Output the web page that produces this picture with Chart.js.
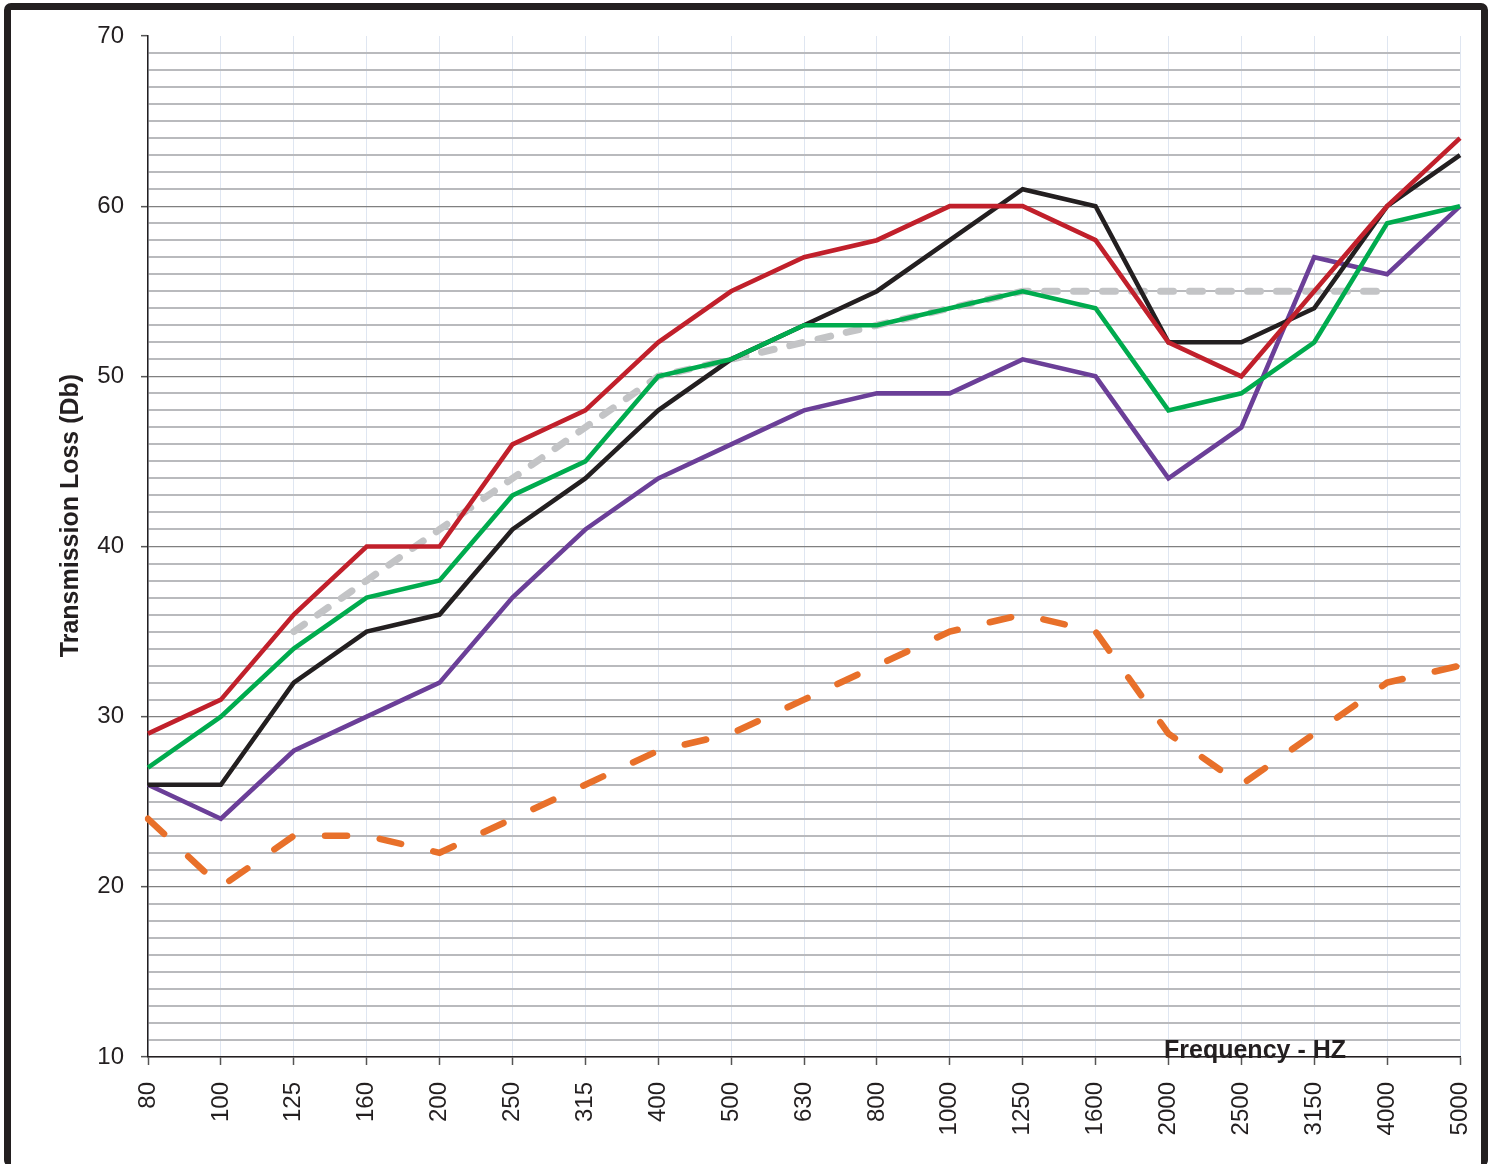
<!DOCTYPE html>
<html>
<head>
<meta charset="utf-8">
<script src="https://cdn.jsdelivr.net/npm/chart.js@4.4.1/dist/chart.umd.min.js"></script>
<style>
  html, body { margin: 0; padding: 0; background: #ffffff; }
  #wrap { position: relative; width: 1494px; height: 1164px; overflow: hidden; }
  #frame { position: absolute; left: 4px; top: 3px; width: 1470px; height: 1155px;
           border: 7px solid #231f20; border-bottom-width: 2px; border-radius: 7px; }
  canvas { position: absolute; left: 0; top: 0; }
</style>
</head>
<body>
<div id="wrap">
  <div id="frame"></div>
  <canvas id="c" width="1494" height="1164"></canvas>
</div>
<script>
const frequencies = ['80','100','125','160','200','250','315','400','500','630','800','1000','1250','1600','2000','2500','3150','4000','5000'];
const redSeries    = [29,31,36,40,40,46,48,52,55,57,58,60,60,58,52,50,55,60,64];
const greenSeries  = [27,30,34,37,38,43,45,50,51,53,53,54,55,54,48,49,52,59,60];
const blackSeries  = [26,26,32,35,36,41,44,48,51,53,55,58,61,60,52,52,54,60,63];
const purpleSeries = [26,24,28,30,32,37,41,44,46,48,49,49,51,50,44,47,57,56,60];
const orangeSeries = [24,20,23,23,22,24,26,28,29,31,33,35,36,35,29,26,29,32,33];
const greySeries   = [null,null,35,38,41,44,47,50,51,52,53,54,55,55,55,55,55,55,null];
const yTickValues  = [10,20,30,40,50,60,70];

const yTitle = 'Transmission Loss (Db)';
const xTitle = 'Frequency - HZ';

const titlesPlugin = {
  id: 'titles',
  afterDraw(chart) {
    const ctx = chart.ctx;
    const a = chart.chartArea;
    ctx.save();
    ctx.fillStyle = '#231f20';
    ctx.font = 'bold 25px "Liberation Sans", Arial, sans-serif';
    ctx.textAlign = 'center';
    ctx.textBaseline = 'alphabetic';
    ctx.translate(a.left - 70, (a.top + a.bottom) / 2 - 31);
    ctx.rotate(-Math.PI / 2);
    ctx.fillText(yTitle, 0, 0);
    ctx.restore();
    ctx.save();
    ctx.fillStyle = '#231f20';
    ctx.font = 'bold 25px "Liberation Sans", Arial, sans-serif';
    ctx.textAlign = 'center';
    ctx.textBaseline = 'alphabetic';
    ctx.fillText(xTitle, a.right - 205, a.bottom + 1);
    ctx.restore();
  }
};

function lineDs(data, color, width, dash) {
  return {
    data: data,
    borderColor: color,
    backgroundColor: color,
    borderWidth: width,
    borderDash: dash || [],
    borderCapStyle: dash ? 'round' : 'butt',
    borderJoinStyle: 'miter',
    pointRadius: 0,
    pointHoverRadius: 0,
    tension: 0,
    fill: false,
    spanGaps: false
  };
}

new Chart(document.getElementById('c'), {
  type: 'line',
  data: {
    labels: frequencies,
    datasets: [
      lineDs(redSeries, '#c1202b', 4.6),
      lineDs(greenSeries, '#00ab4e', 4.6),
      lineDs(blackSeries, '#231f20', 4.6),
      lineDs(purpleSeries, '#6b3f98', 4.6),
      lineDs(orangeSeries, '#e8702a', 6.5, [22, 33]),
      lineDs(greySeries, '#c3c4c6', 7, [13, 16])
    ]
  },
  options: {
    responsive: false,
    animation: false,
    devicePixelRatio: 1,
    layout: { padding: { left: 0, top: 36, right: 34, bottom: 0 } },
    plugins: { legend: { display: false }, tooltip: { enabled: false }, title: { display: false } },
    scales: {
      x: {
        type: 'category',
        offset: false,
        afterFit(scale) { scale.height = 107; scale.paddingRight = 0; scale.paddingLeft = 0; },
        border: { display: true, color: '#231f20', width: 1.5 },
        grid: {
          display: true,
          color: '#dfe6f1',
          lineWidth: 1,
          drawTicks: true,
          tickLength: 8,
          tickColor: '#555555',
          tickWidth: 1.5
        },
        ticks: {
          minRotation: 90,
          maxRotation: 90,
          autoSkip: false,
          padding: 17,
          color: '#231f20',
          font: { family: '"Liberation Sans", Arial, sans-serif', size: 24 }
        }
      },
      y: {
        min: 10,
        max: 70,
        afterFit(scale) { scale.width = 148; scale.paddingTop = 0; scale.paddingBottom = 0; },
        border: { display: true, color: '#231f20', width: 1.5 },
        grid: {
          color(ctx) {
            const v = ctx.tick ? ctx.tick.value : 0;
            if (v === 70) return 'rgba(0,0,0,0)';
            return (v % 10 === 0) ? '#808080' : '#b9babd';
          },
          lineWidth(ctx) {
            const v = ctx.tick ? ctx.tick.value : 0;
            return (v % 10 === 0) ? 1.3 : 2;
          },
          drawTicks: true,
          tickLength: 7,
          tickColor(ctx) {
            const v = ctx.tick ? ctx.tick.value : 0;
            return yTickValues.includes(v) ? '#555555' : 'rgba(0,0,0,0)';
          },
          tickWidth: 1.5
        },
        ticks: {
          stepSize: 1,
          autoSkip: false,
          padding: 17,
          color: '#231f20',
          font: { family: '"Liberation Sans", Arial, sans-serif', size: 24 },
          callback(value) { return yTickValues.includes(value) ? String(value) : ''; }
        }
      }
    }
  },
  plugins: [titlesPlugin]
});
</script>
</body>
</html>
